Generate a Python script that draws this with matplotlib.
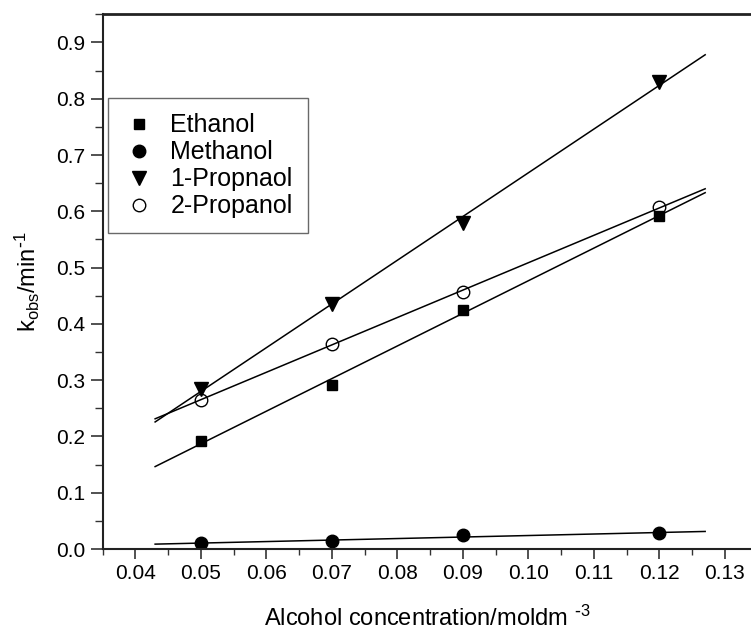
import numpy as np
import matplotlib.pyplot as plt
from matplotlib.ticker import MultipleLocator, FormatStrFormatter

plt.rcParams['font.family'] = ['Liberation Sans', 'DejaVu Sans']
plt.rcParams['mathtext.default'] = 'regular'

conc = [0.05, 0.07, 0.09, 0.12]
ethanol = [0.192, 0.292, 0.425, 0.592]
methanol = [0.010, 0.015, 0.024, 0.028]
propanol1 = [0.285, 0.435, 0.580, 0.830]
propanol2 = [0.265, 0.365, 0.457, 0.607]

series = [
    ("Ethanol", ethanol, 's', 'k', 7.5),
    ("Methanol", methanol, 'o', 'k', 9),
    ("1-Propnaol", propanol1, 'v', 'k', 10),
    ("2-Propanol", propanol2, 'o', 'none', 9),
]

fig = plt.figure(figsize=(7.51, 6.33), dpi=100)
ax = fig.add_axes([0.1368, 0.1327, 0.8632, 0.8447])

xfit = np.array([0.043, 0.127])
for name, vals, mk, fc, ms in series:
    p = np.polyfit(conc, vals, 1)
    ax.plot(xfit, np.polyval(p, xfit), color='k', lw=1.1)
    ax.plot(conc, vals, ls='none', marker=mk, markersize=ms,
            markerfacecolor=fc, markeredgecolor='k', markeredgewidth=1.0,
            label=name)

ax.set_xlim(0.035, 0.134)
ax.set_ylim(0.0, 0.95)
ax.xaxis.set_major_locator(MultipleLocator(0.01))
ax.xaxis.set_minor_locator(MultipleLocator(0.005))
ax.yaxis.set_major_locator(MultipleLocator(0.1))
ax.yaxis.set_minor_locator(MultipleLocator(0.05))
ax.xaxis.set_major_formatter(FormatStrFormatter('%.2f'))
ax.yaxis.set_major_formatter(FormatStrFormatter('%.1f'))
ax.tick_params(which='major', direction='out', length=7, width=1.2,
               labelsize=15, color='#333333')
ax.tick_params(which='minor', direction='out', length=4, width=1.0,
               color='#333333')
ax.tick_params(axis='y', which='major', length=9)
ax.tick_params(axis='y', which='minor', length=6)

ax.spines['right'].set_visible(False)
ax.spines['top'].set_linewidth(2.0)
ax.spines['left'].set_linewidth(1.5)
ax.spines['bottom'].set_linewidth(1.5)
for s in ax.spines.values():
    s.set_color('#222222')

ax.set_xlabel(r'Alcohol concentration/moldm $^{\text{-}3}$', fontsize=17, labelpad=17)
ax.set_ylabel(r'k$_{obs}$/min$^{\text{-}1}$', fontsize=17, labelpad=10)

leg = ax.legend(loc='upper left', bbox_to_anchor=(0.008, 0.843), fontsize=18,
                frameon=True, fancybox=False, edgecolor='#444444',
                handletextpad=0.6, labelspacing=0.12, borderpad=0.6,
                handlelength=1.3, borderaxespad=0)
leg.get_frame().set_linewidth(1.0)

fig.savefig('out.png', dpi=100)
